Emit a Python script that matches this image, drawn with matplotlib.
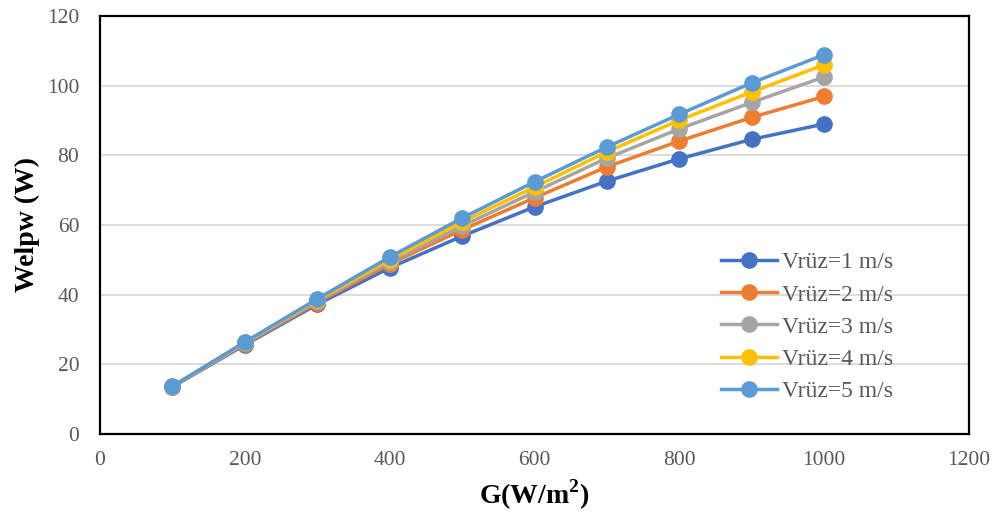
import matplotlib.pyplot as plt

# irradiance G (W/m2)
G = [100, 200, 300, 400, 500, 600, 700, 800, 900, 1000]

# electrical power Welpw (W) for each wind speed
w_v1 = [13.5, 25.6, 37.2, 47.7, 56.8, 65.2, 72.6, 79.0, 84.6, 89.0]
w_v2 = [13.6, 25.9, 37.7, 48.8, 58.6, 67.8, 76.7, 84.1, 90.9, 96.9]
w_v3 = [13.6, 26.1, 38.1, 49.4, 59.7, 69.5, 79.2, 87.6, 95.2, 102.5]
w_v4 = [13.7, 26.3, 38.5, 50.0, 60.9, 70.9, 81.0, 90.1, 98.2, 106.0]
w_v5 = [13.7, 26.4, 38.8, 50.8, 62.0, 72.4, 82.4, 91.8, 100.8, 108.9]

labels = ['Vrüz=1 m/s', 'Vrüz=2 m/s', 'Vrüz=3 m/s', 'Vrüz=4 m/s', 'Vrüz=5 m/s']
colors = ['#4472C4', '#ED7D31', '#A5A5A5', '#FFC000', '#5B9BD5']

plt.rcParams['font.family'] = ['Liberation Serif', 'DejaVu Serif']
plt.rcParams['mathtext.fontset'] = 'custom'
plt.rcParams['mathtext.rm'] = 'Liberation Serif'
plt.rcParams['mathtext.bf'] = 'Liberation Serif:bold'

fig = plt.figure(figsize=(9.95, 5.18), dpi=100)
ax = fig.add_axes([100 / 995, 84 / 518, 869 / 995, 418 / 518])

for y, lab, c in zip([w_v1, w_v2, w_v3, w_v4, w_v5], labels, colors):
    ax.plot(G, y, color=c, linewidth=2.5, marker='o', markersize=11, label=lab)

ax.set_xlim(0, 1200)
ax.set_ylim(0, 120)
ax.set_xticks(range(0, 1201, 200))
ax.set_yticks(range(0, 121, 20))
ax.grid(axis='y', color='#d9d9d9', linewidth=1.3)
ax.set_axisbelow(True)
ax.tick_params(length=0, labelsize=15.5, colors='#595959')
ax.tick_params(axis='y', pad=15)
ax.tick_params(axis='x', pad=12)
for s in ax.spines.values():
    s.set_linewidth(1.6)
    s.set_color('black')

ax.set_xlabel('G(W/m$^\\mathbf{2}$)', fontsize=20, fontweight='bold', labelpad=6)
ax.set_ylabel('Welpw (W)', fontsize=20, fontweight='bold', labelpad=5)

leg = ax.legend(loc='center', bbox_to_anchor=(807 / 995, 1 - 327 / 518),
                bbox_transform=fig.transFigure, frameon=False,
                fontsize=17, labelcolor='#595959', handlelength=2.35,
                handletextpad=0.2, labelspacing=0.45)

fig.savefig('out.png', dpi=100)
